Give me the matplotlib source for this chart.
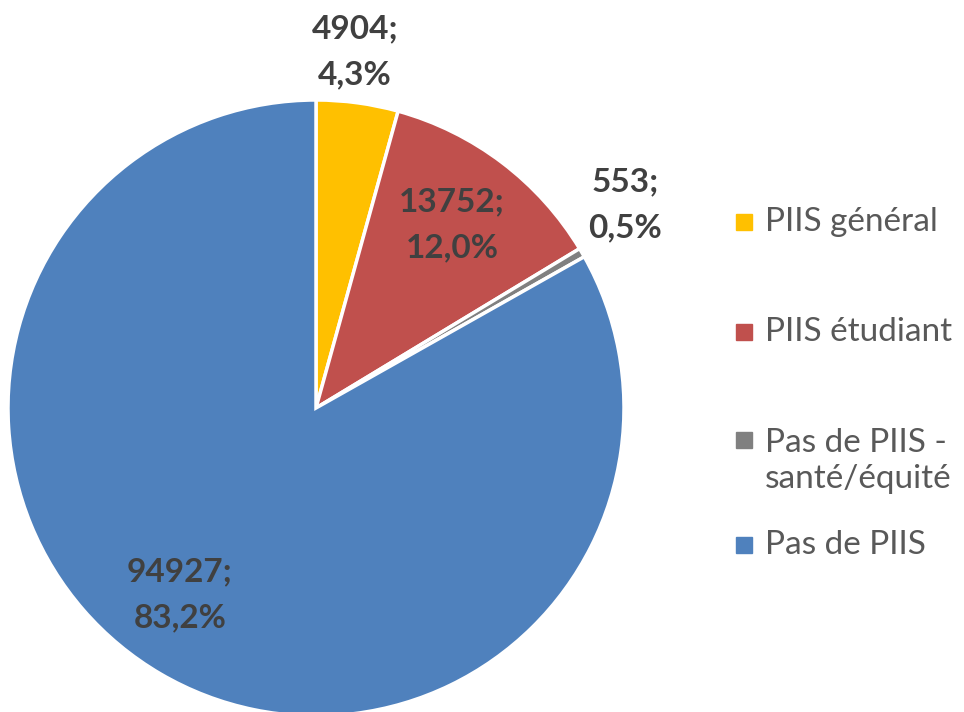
import matplotlib.pyplot as plt
from matplotlib.patches import Rectangle

# données
categories = ['PIIS général', 'PIIS étudiant', 'Pas de PIIS -\nsanté/équité', 'Pas de PIIS']
valeurs = [4904, 13752, 553, 94927]
pourcentages = ['4,3%', '12,0%', '0,5%', '83,2%']
couleurs = ['#FFC000', '#C0504D', '#808080', '#4F81BD']

W, H = 964, 712
fig = plt.figure(figsize=(W / 100, H / 100), dpi=100)

# centre du camembert (316, 408) px, rayon 308 px
cx, cy, r = 316, 408, 308
ax = fig.add_axes([(cx - r) / W, (H - cy - r) / H, 2 * r / W, 2 * r / H])
ax.pie(valeurs, colors=couleurs, startangle=90, counterclock=False, radius=1,
       wedgeprops=dict(edgecolor='white', linewidth=2.5))
ax.set_xlim(-1, 1)
ax.set_ylim(-1, 1)
ax.set_aspect('equal')
ax.axis('off')

# étiquettes de données
positions = [(355, 52), (452, 225), (625, 205), (180, 595)]
for v, p, (px, py) in zip(valeurs, pourcentages, positions):
    ax.text((px - cx) / r, (cy - py) / r, f'{v};\n{p}', ha='center', va='center',
            fontsize=24, fontweight='bold', color='#404040', family='Lato',
            linespacing=1.7)

# légende manuelle
marque_y = [222, 332, 440, 545]
texte_y = [222, 332, 461, 545]
for lab, c, my, ty in zip(categories, couleurs, marque_y, texte_y):
    fig.patches.append(Rectangle((736 / W, (H - my - 8) / H), 16 / W, 16 / H,
                                 transform=fig.transFigure, color=c))
    fig.text(765 / W, (H - ty) / H, lab, ha='left', va='center', fontsize=24,
             color='#595959', family='Lato', linespacing=1.25)

fig.savefig('out.png', dpi=100)
